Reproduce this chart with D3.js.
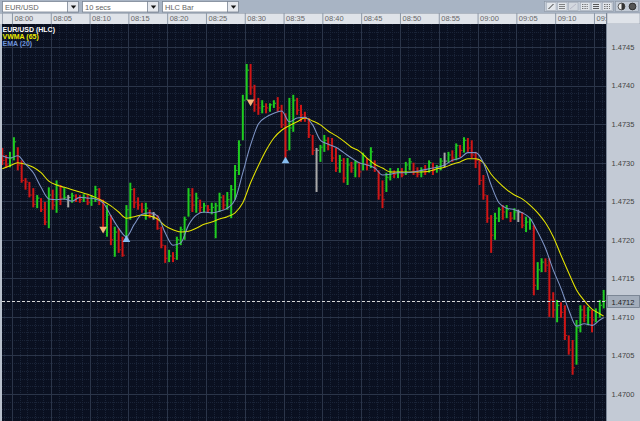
<!DOCTYPE html>
<html>
<head>
<meta charset="utf-8">
<script src="https://cdn.jsdelivr.net/npm/d3@7"></script>
<style>
body { margin: 0; background: #a8b4c4; overflow: hidden; }
svg { display: block; font-family: "Liberation Sans", Arial, sans-serif; }
</style>
</head>
<body>
<svg></svg>
<script>
var width = 640;
var height = 421;

// EUR/USD HLC bars, 30 second steps from 07:58:45
var barHigh = [1.47319,1.47310,1.47314,1.47333,1.47320,1.47303,1.47280,1.47275,1.47267,1.47258,
  1.47254,1.47249,1.47268,1.47265,1.47277,1.47271,1.47267,1.47258,1.47261,1.47259,
  1.47258,1.47259,1.47258,1.47258,1.47270,1.47267,1.47252,1.47245,1.47232,1.47217,
  1.47215,1.47204,1.47245,1.47274,1.47267,1.47255,1.47248,1.47248,1.47239,1.47236,
  1.47232,1.47217,1.47193,1.47187,1.47184,1.47204,1.47217,1.47230,1.47267,1.47267,
  1.47261,1.47252,1.47248,1.47245,1.47248,1.47248,1.47261,1.47258,1.47262,1.47271,
  1.47297,1.47329,1.47388,1.47428,1.47428,1.47401,1.47384,1.47381,1.47377,1.47377,
  1.47381,1.47385,1.47375,1.47364,1.47384,1.47388,1.47384,1.47375,1.47366,1.47358,
  1.47336,1.47319,1.47323,1.47336,1.47333,1.47332,1.47319,1.47310,1.47306,1.47306,
  1.47301,1.47303,1.47300,1.47313,1.47306,1.47320,1.47303,1.47290,1.47277,1.47287,
  1.47293,1.47290,1.47293,1.47293,1.47301,1.47306,1.47300,1.47294,1.47294,1.47297,
  1.47303,1.47300,1.47297,1.47306,1.47313,1.47314,1.47316,1.47325,1.47323,1.47333,
  1.47332,1.47329,1.47314,1.47303,1.47284,1.47258,1.47232,1.47235,1.47242,1.47245,
  1.47245,1.47236,1.47241,1.47239,1.47236,1.47230,1.47228,1.47219,1.47171,1.47176,
  1.47176,1.47176,1.47132,1.47122,1.47119,1.47115,1.47076,1.47070,1.47096,1.47115,
  1.47115,1.47113,1.47109,1.47111,1.47122,1.47135];

var barLow = [1.47297,1.47293,1.47294,1.47303,1.47290,1.47274,1.47265,1.47255,1.47242,1.47241,
  1.47236,1.47219,1.47215,1.47239,1.47235,1.47245,1.47252,1.47242,1.47248,1.47249,
  1.47248,1.47249,1.47245,1.47244,1.47249,1.47245,1.47210,1.47204,1.47193,1.47178,
  1.47183,1.47178,1.47200,1.47226,1.47241,1.47239,1.47235,1.47226,1.47228,1.47226,
  1.47213,1.47189,1.47170,1.47171,1.47171,1.47174,1.47193,1.47200,1.47230,1.47236,
  1.47235,1.47235,1.47235,1.47235,1.47233,1.47202,1.47236,1.47239,1.47239,1.47228,
  1.47252,1.47284,1.47329,1.47381,1.47388,1.47366,1.47362,1.47364,1.47364,1.47366,
  1.47371,1.47366,1.47345,1.47306,1.47316,1.47340,1.47362,1.47353,1.47353,1.47332,
  1.47310,1.47262,1.47301,1.47314,1.47316,1.47301,1.47288,1.47287,1.47274,1.47271,
  1.47287,1.47281,1.47281,1.47290,1.47290,1.47293,1.47288,1.47252,1.47241,1.47262,
  1.47277,1.47280,1.47280,1.47281,1.47284,1.47290,1.47284,1.47281,1.47281,1.47284,
  1.47287,1.47284,1.47287,1.47290,1.47294,1.47300,1.47301,1.47303,1.47307,1.47313,
  1.47314,1.47306,1.47293,1.47271,1.47252,1.47222,1.47183,1.47200,1.47223,1.47226,
  1.47228,1.47223,1.47226,1.47223,1.47215,1.47210,1.47213,1.47128,1.47135,1.47158,
  1.47158,1.47100,1.47099,1.47093,1.47099,1.47070,1.47051,1.47025,1.47038,1.47080,
  1.47093,1.47089,1.47080,1.47093,1.47099,1.47111];

var barClose = [1.47303,1.47297,1.47306,1.47327,1.47297,1.47277,1.47275,1.47258,1.47246,1.47254,
  1.47239,1.47223,1.47258,1.47245,1.47271,1.47254,1.47255,1.47255,1.47257,1.47254,
  1.47252,1.47255,1.47248,1.47254,1.47265,1.47252,1.47215,1.47232,1.47200,1.47210,
  1.47187,1.47180,1.47239,1.47265,1.47248,1.47245,1.47239,1.47241,1.47233,1.47233,
  1.47215,1.47193,1.47176,1.47179,1.47176,1.47200,1.47213,1.47226,1.47258,1.47245,
  1.47254,1.47242,1.47244,1.47239,1.47242,1.47244,1.47255,1.47245,1.47252,1.47265,
  1.47290,1.47323,1.47381,1.47420,1.47397,1.47375,1.47371,1.47373,1.47371,1.47375,
  1.47377,1.47371,1.47349,1.47316,1.47345,1.47381,1.47368,1.47362,1.47358,1.47336,
  1.47316,1.47316,1.47320,1.47329,1.47323,1.47306,1.47293,1.47303,1.47280,1.47297,
  1.47293,1.47300,1.47288,1.47309,1.47297,1.47314,1.47293,1.47258,1.47252,1.47281,
  1.47288,1.47285,1.47288,1.47284,1.47297,1.47301,1.47288,1.47285,1.47289,1.47288,
  1.47300,1.47290,1.47293,1.47302,1.47302,1.47310,1.47306,1.47322,1.47316,1.47329,
  1.47319,1.47310,1.47303,1.47277,1.47258,1.47228,1.47206,1.47228,1.47239,1.47236,
  1.47239,1.47228,1.47236,1.47236,1.47219,1.47223,1.47226,1.47141,1.47161,1.47171,
  1.47167,1.47122,1.47109,1.47115,1.47106,1.47076,1.47057,1.47034,1.47086,1.47109,
  1.47102,1.47109,1.47096,1.47106,1.47115,1.47121];

// indicator values, read once a minute (every 2nd bar) plus the last bar
var vwma65 = [1.47292,1.47296,1.47300,1.47298,1.47294,1.47287,1.47276,1.47271,1.47268,1.47265,
  1.47262,1.47259,1.47255,1.47250,1.47244,1.47236,1.47228,1.47230,1.47232,1.47231,
  1.47227,1.47218,1.47213,1.47210,1.47211,1.47215,1.47220,1.47223,1.47227,1.47230,
  1.47235,1.47248,1.47274,1.47296,1.47316,1.47332,1.47342,1.47348,1.47353,1.47358,
  1.47354,1.47349,1.47341,1.47335,1.47328,1.47320,1.47315,1.47306,1.47298,1.47293,
  1.47288,1.47288,1.47288,1.47288,1.47288,1.47289,1.47292,1.47294,1.47298,1.47301,
  1.47305,1.47305,1.47300,1.47285,1.47274,1.47265,1.47258,1.47253,1.47245,1.47235,
  1.47222,1.47204,1.47180,1.47157,1.47135,1.47121,1.47110,1.47104,1.47101];

var ema20 = [1.47309,1.47306,1.47309,1.47298,1.47287,1.47268,1.47253,1.47252,1.47253,1.47250,
  1.47255,1.47254,1.47253,1.47248,1.47231,1.47215,1.47204,1.47220,1.47233,1.47235,
  1.47231,1.47209,1.47193,1.47196,1.47219,1.47232,1.47236,1.47235,1.47237,1.47241,
  1.47252,1.47287,1.47323,1.47350,1.47359,1.47364,1.47367,1.47353,1.47358,1.47359,
  1.47349,1.47329,1.47324,1.47320,1.47313,1.47306,1.47300,1.47297,1.47293,1.47284,
  1.47285,1.47287,1.47287,1.47288,1.47290,1.47292,1.47294,1.47297,1.47303,1.47306,
  1.47313,1.47313,1.47300,1.47271,1.47248,1.47241,1.47239,1.47235,1.47228,1.47210,
  1.47189,1.47161,1.47137,1.47109,1.47088,1.47091,1.47089,1.47096,1.47099];

// signal markers: [bar index, price]
var sellSignals = [[26, 1.47214], [64, 1.47379]];
var buySignals = [[32, 1.47200], [73, 1.47302]];

var priceTicks = [1.4700, 1.4705, 1.4710, 1.4715, 1.4720, 1.4725, 1.4730, 1.4735, 1.4740, 1.4745];
var timeTicks = ["08:00", "08:05", "08:10", "08:15", "08:20", "08:25", "08:30", "08:35", "08:40",
  "08:45", "08:50", "08:55", "09:00", "09:05", "09:10", "09:15"];
var lastPrice = 1.4712;
var menus = ["EUR/USD", "10 secs", "HLC Bar"];

var parse = d3.timeParse("%H:%M:%S");
var firstBar = parse("07:58:45");
var barTimes = barClose.map(function(d, i) { return d3.timeSecond.offset(firstBar, i * 30); });
var maIndex = d3.range(0, barClose.length, 2).concat([barClose.length - 1]);

var plotL = 2, plotR = 606, plotT = 24, plotB = 421;

var x = d3.scaleTime()
    .domain([parse("07:58:43"), parse("09:16:33")])
    .range([plotL, plotR]);
var y = d3.scaleLinear()
    .domain([1.4700, 1.4745])
    .range([394, 47]);

var svg = d3.select("svg").attr("width", width).attr("height", height);
var defs = svg.append("defs");
defs.append("clipPath").attr("id", "plotClip").append("rect")
    .attr("x", plotL).attr("y", plotT).attr("width", plotR - plotL).attr("height", plotB - plotT);
defs.append("clipPath").attr("id", "timeClip").append("rect")
    .attr("x", 0).attr("y", 13).attr("width", plotR).attr("height", 11);

// top toolbar
svg.append("rect").attr("width", width).attr("height", 13).attr("fill", "#a8b4c4");

var menu = svg.selectAll("g.menu").data(menus).enter().append("g")
    .attr("class", "menu")
    .attr("transform", function(d, i) { return "translate(" + (2 + i * 80) + ",1)"; });
menu.append("rect").attr("x", 0.5).attr("y", 0.5).attr("width", 76).attr("height", 10.5)
    .attr("fill", "#ffffff").attr("stroke", "#7a8594").attr("stroke-width", 0.8);
menu.append("rect").attr("x", 65.5).attr("y", 0.5).attr("width", 11).attr("height", 10.5)
    .attr("fill", "#e6e9ee").attr("stroke", "#7a8594").attr("stroke-width", 0.8);
menu.append("path").attr("d", "M68.8,4.6h5.4l-2.7,3.1z").attr("fill", "#111");
menu.append("text").attr("x", 3).attr("y", 8.6).attr("font-size", 7.5).attr("fill", "#666")
    .text(function(d) { return d; });

// right side buttons
var tools = svg.append("g");
tools.append("rect").attr("x", 544.5).attr("y", 1.5).attr("width", 69).attr("height", 10)
    .attr("fill", "#c3cbd6").attr("stroke", "#8a95a4").attr("stroke-width", 0.6);
tools.append("rect").attr("x", 615.5).attr("y", 1.5).attr("width", 23).attr("height", 10)
    .attr("fill", "#c3cbd6").attr("stroke", "#8a95a4").attr("stroke-width", 0.6);
var toolX = [546, 557, 568, 580, 591, 602];
tools.selectAll("rect.btn").data(toolX).enter().append("rect")
    .attr("x", function(d) { return d + 0.5; }).attr("y", 2.5).attr("width", 9.5).attr("height", 8)
    .attr("fill", function(d, i) { return i == 2 ? "#d3d8df" : "#e2e6eb"; })
    .attr("stroke", "#9aa4b2").attr("stroke-width", 0.5);
tools.append("path").attr("d", "M548.5,9L553.5,4").attr("stroke", "#222").attr("stroke-width", 0.9);
tools.append("path").attr("d", "M559,4.5h6M559,6.5h6M559,8.5h6").attr("stroke", "#555").attr("stroke-width", 0.7);
tools.append("path").attr("d", "M570,9L576,4").attr("stroke", "#aab").attr("stroke-width", 0.7);
tools.append("path").attr("d", "M582,4.5h6M582,6.5h6M582,8.5h6").attr("stroke", "#444").attr("stroke-width", 0.7).attr("stroke-dasharray", "1,0.6");
tools.append("path").attr("d", "M593,4.5h6M593,6.5h6M593,8.5h6").attr("stroke", "#333").attr("stroke-width", 0.8);
tools.append("path").attr("d", "M604,4.5h6M604,6.5h6M604,8.5h6").attr("stroke", "#444").attr("stroke-width", 0.7).attr("stroke-dasharray", "1.5,1");
tools.append("circle").attr("cx", 621.5).attr("cy", 6.5).attr("r", 3.4).attr("fill", "#eee").attr("stroke", "#333").attr("stroke-width", 0.8);
tools.append("path").attr("d", "M621.5,3.1a3.4,3.4 0 0 1 0,6.8z").attr("fill", "#333");
tools.append("circle").attr("cx", 632.5).attr("cy", 6.5).attr("r", 3.4).attr("fill", "#555").attr("stroke", "#222").attr("stroke-width", 0.8);

// time strip and price strip backgrounds
svg.append("rect").attr("x", 0).attr("y", 13).attr("width", plotR + 1).attr("height", 11).attr("fill", "#dfe3e9");
svg.append("rect").attr("x", plotR + 1).attr("y", 13).attr("width", width - plotR - 1).attr("height", 11)
    .attr("fill", "#dfe3e9").attr("stroke", "#8a95a4").attr("stroke-width", 0.6);
svg.append("rect").attr("x", plotR + 1).attr("y", plotT).attr("width", width - plotR - 1).attr("height", plotB - plotT)
    .attr("fill", "#c3cad5");
svg.append("line").attr("x1", plotR + 0.5).attr("x2", plotR + 0.5).attr("y1", 13).attr("y2", plotB)
    .attr("stroke", "#7d8898").attr("stroke-width", 1);
svg.append("rect").attr("x", 0).attr("y", plotT).attr("width", plotL).attr("height", plotB - plotT).attr("fill", "#b9c1cc");

// time axis
var timeAxis = d3.axisBottom(x)
    .tickValues(timeTicks.map(function(t) { return parse(t + ":00"); }))
    .tickFormat(d3.timeFormat("%H:%M"))
    .tickSize(11);
var tg = svg.append("g").attr("clip-path", "url(#timeClip)")
    .append("g").attr("transform", "translate(0,13)").call(timeAxis);
tg.select(".domain").remove();
tg.selectAll(".tick line").attr("stroke", "#8e99a8");
tg.selectAll(".tick text").attr("x", 2).attr("y", 2).attr("dy", "0.75em")
    .attr("text-anchor", "start").attr("fill", "#666").attr("font-size", 7.5)
    .attr("font-family", "'Liberation Sans', Arial, sans-serif");
svg.append("line").attr("x1", 0).attr("x2", plotR).attr("y1", 13.5).attr("y2", 13.5).attr("stroke", "#8e99a8").attr("stroke-width", 0.6);
svg.append("line").attr("x1", 2.5).attr("x2", 2.5).attr("y1", 13).attr("y2", 24).attr("stroke", "#8e99a8").attr("stroke-width", 0.8);

// plot area
var plot = svg.append("g").attr("clip-path", "url(#plotClip)");
plot.append("rect").attr("x", plotL).attr("y", plotT).attr("width", plotR - plotL).attr("height", plotB - plotT)
    .attr("fill", "#0a1020");

var pLo = y.invert(plotB), pHi = y.invert(plotT);
var minorPrices = d3.ticks(pLo, pHi, 50);
var majorPrices = d3.ticks(pLo, pHi, 10);
var minorTimes = x.ticks(d3.timeMinute.every(1));
var majorTimes = x.ticks(d3.timeMinute.every(5));

plot.selectAll("line.vmin").data(minorTimes).enter().append("line")
    .attr("x1", function(d) { return Math.round(x(d)) + 0.5; })
    .attr("x2", function(d) { return Math.round(x(d)) + 0.5; })
    .attr("y1", plotT).attr("y2", plotB)
    .attr("stroke", "#1a2438").attr("stroke-dasharray", "1,1");
plot.selectAll("line.hmin").data(minorPrices).enter().append("line")
    .attr("x1", plotL).attr("x2", plotR)
    .attr("y1", function(d) { return Math.round(y(d)) + 0.5; })
    .attr("y2", function(d) { return Math.round(y(d)) + 0.5; })
    .attr("stroke", "#1a2438").attr("stroke-dasharray", "1,1");
plot.selectAll("line.vmaj").data(majorTimes).enter().append("line")
    .attr("x1", function(d) { return Math.round(x(d)) + 0.5; })
    .attr("x2", function(d) { return Math.round(x(d)) + 0.5; })
    .attr("y1", plotT).attr("y2", plotB)
    .attr("stroke", "#2b3549");
plot.selectAll("line.hmaj").data(majorPrices).enter().append("line")
    .attr("x1", plotL).attr("x2", plotR)
    .attr("y1", function(d) { return Math.round(y(d)) + 0.5; })
    .attr("y2", function(d) { return Math.round(y(d)) + 0.5; })
    .attr("stroke", "#2b3549");

// HLC bars
function barColor(d, i) {
    if (i == 0) return "#d01515";
    if (d > barClose[i - 1]) return "#1fcc1f";
    if (d < barClose[i - 1]) return "#d01515";
    return "#a9a9a9";
}
var bar = plot.selectAll("g.bar").data(barClose).enter().append("g").attr("class", "bar");
bar.append("line")
    .attr("x1", function(d, i) { return x(barTimes[i]); })
    .attr("x2", function(d, i) { return x(barTimes[i]); })
    .attr("y1", function(d, i) { return y(barHigh[i]); })
    .attr("y2", function(d, i) { return y(barLow[i]); })
    .attr("stroke", barColor).attr("stroke-width", 2);
bar.append("line")
    .attr("x1", function(d, i) { return x(barTimes[i]) + 0.8; })
    .attr("x2", function(d, i) { return x(barTimes[i]) + 2.3; })
    .attr("y1", function(d) { return y(d); })
    .attr("y2", function(d) { return y(d); })
    .attr("stroke", barColor).attr("stroke-width", 1);

// moving averages
function maLine(values) {
    return d3.line()
        .x(function(d, k) { return x(barTimes[maIndex[k]]); })
        .y(function(d) { return y(d); })
        .curve(d3.curveMonotoneX)(values);
}
plot.append("path").attr("d", maLine(vwma65)).attr("fill", "none")
    .attr("stroke", "#e6e600").attr("stroke-width", 1.05);
plot.append("path").attr("d", maLine(ema20)).attr("fill", "none")
    .attr("stroke", "#7f95c6").attr("stroke-width", 1.05);

// signals
var tri = d3.symbol().type(d3.symbolTriangle).size(26);
plot.selectAll("path.sell").data(sellSignals).enter().append("path")
    .attr("d", tri)
    .attr("transform", function(d) { return "translate(" + x(barTimes[d[0]]) + "," + y(d[1]) + ") rotate(180)"; })
    .attr("fill", "#f3b57c");
plot.selectAll("path.buy").data(buySignals).enter().append("path")
    .attr("d", tri)
    .attr("transform", function(d) { return "translate(" + x(barTimes[d[0]]) + "," + y(d[1]) + ")"; })
    .attr("fill", "#86bdf0");

// last price line
plot.append("line").attr("x1", plotL).attr("x2", plotR)
    .attr("y1", Math.round(y(lastPrice)) + 0.5).attr("y2", Math.round(y(lastPrice)) + 0.5)
    .attr("stroke", "#d8d8d8").attr("stroke-dasharray", "3,2");

// legend
var legend = [["EUR/USD (HLC)", "#ffffff"], ["VWMA (65)", "#eeee00"], ["EMA (20)", "#6f93d8"]];
plot.selectAll("text.leg").data(legend).enter().append("text")
    .attr("x", 2.5).attr("y", function(d, i) { return 31.5 + i * 7; })
    .attr("font-size", 7).attr("font-weight", "bold").attr("fill", function(d) { return d[1]; })
    .text(function(d) { return d[0]; });

// price axis
var priceAxis = d3.axisRight(y).tickValues(priceTicks).tickSize(0).tickFormat(d3.format(".4f"));
var pg = svg.append("g").attr("transform", "translate(" + (plotR + 1) + ",0)").call(priceAxis);
pg.select(".domain").remove();
pg.selectAll(".tick text").attr("x", 16).attr("text-anchor", "middle").attr("fill", "#444")
    .attr("font-size", 7.5).attr("font-family", "'Liberation Sans', Arial, sans-serif");

var lp = svg.append("g").attr("transform", "translate(" + (plotR + 1) + "," + Math.round(y(lastPrice)) + ")");
lp.append("rect").attr("x", 0.5).attr("y", -5.5).attr("width", width - plotR - 2).attr("height", 12)
    .attr("fill", "#a3adbb").attr("stroke", "#6e7989").attr("stroke-width", 0.8);
lp.append("text").attr("x", 16).attr("y", 3.5).attr("text-anchor", "middle").attr("font-size", 7.5)
    .attr("fill", "#222").text(d3.format(".4f")(lastPrice));
</script>
</body>
</html>
